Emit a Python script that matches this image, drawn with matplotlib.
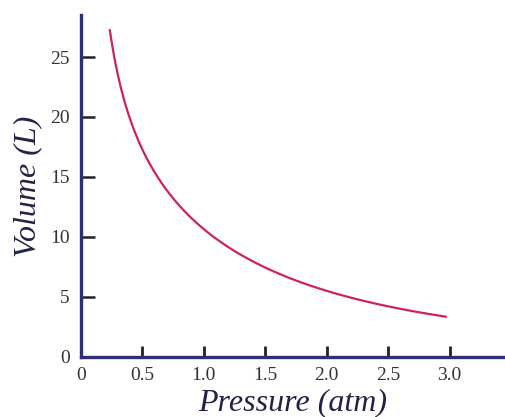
import matplotlib
matplotlib.use("Agg")
import matplotlib.pyplot as plt
import numpy as np

# Data
pressure = [0.236, 0.263, 0.303, 0.358, 0.45, 0.588, 0.79, 0.967, 1.13, 1.29, 1.455,
            1.62, 1.78, 2.05, 2.32, 2.59, 2.97]
volume = [27.3, 25.3, 22.5, 20.3, 18.1, 15.9, 13.4, 11.4, 9.75, 8.5, 7.5,
          6.8, 6.28, 5.3, 4.47, 3.86, 3.36]
x_ticks = [0, 0.5, 1.0, 1.5, 2.0, 2.5, 3.0]
x_tick_labels = ["0", "0.5", "1.0", "1.5", "2.0", "2.5", "3.0"]
y_ticks = [0, 5, 10, 15, 20, 25]
y_tick_labels = ["0", "5", "10", "15", "20", "25"]

fig = plt.figure(figsize=(5.05, 4.17), dpi=100)
ax = fig.add_axes([0.160, 0.144, 0.84, 0.820])

# smooth drawing of the hand-drawn curve through the read points (log-log smoothing)
pp = np.log(np.array(pressure))
vv = np.log(np.array(volume))
w = np.ones_like(pp)
w[0] = w[-1] = 6
coef = np.polyfit(pp, vv, 3, w=w)
t = np.linspace(pp[0], pp[-1], 300)
ax.plot(np.exp(t), np.exp(np.polyval(coef, t)), color="#cf2358", lw=1.6,
        solid_capstyle="round")

ax.set_xlim(0, 3.45)
ax.set_ylim(0, 28.5)

navy = "#2c2f72"
for s in ["top", "right"]:
    ax.spines[s].set_visible(False)
for s in ["left", "bottom"]:
    ax.spines[s].set_color(navy)
    ax.spines[s].set_linewidth(2.4)

serif = "Liberation Serif"
ax.set_xticks(x_ticks)
ax.set_xticklabels(x_tick_labels, family=serif, fontsize=14, color="#333333")
ax.set_yticks(y_ticks)
ax.set_yticklabels(y_tick_labels, family=serif, fontsize=14, color="#333333")
ax.tick_params(axis="x", direction="in", length=8, width=2, color="#222222", pad=7)
ax.tick_params(axis="y", direction="in", length=10, width=1.8, color="#222222", pad=8)

ax.set_xlabel("Pressure (atm)", family=serif, style="italic", fontsize=23,
              color="#222244", labelpad=3)
ax.set_ylabel("Volume (L)", family=serif, style="italic", fontsize=23,
              color="#222244", labelpad=6)

fig.savefig("out.png", dpi=100)
